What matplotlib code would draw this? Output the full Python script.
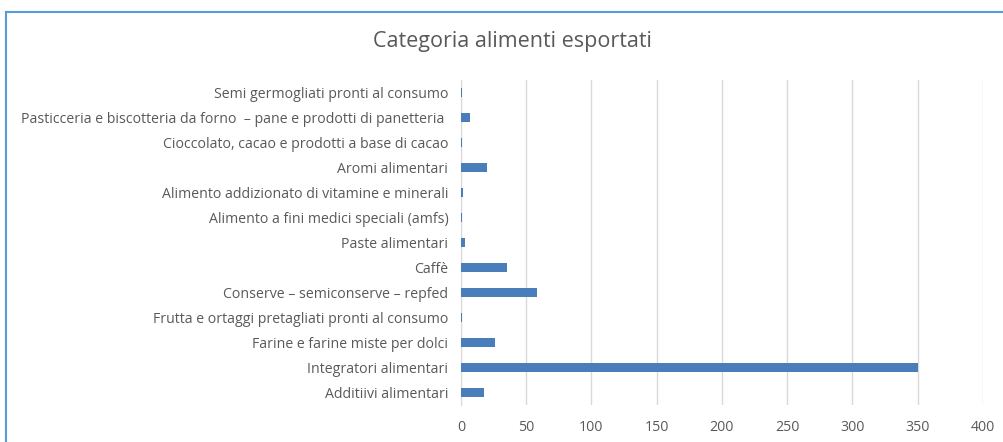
import matplotlib.pyplot as plt
from matplotlib.lines import Line2D

categories = [
    "Additiivi alimentari",
    "Integratori alimentari",
    "Farine e farine miste per dolci",
    "Frutta e ortaggi pretagliati pronti al consumo",
    "Conserve \u2013 semiconserve \u2013 repfed",
    "Caffè",
    "Paste alimentari",
    "Alimento a fini medici speciali (amfs)",
    "Alimento addizionato di vitamine e minerali",
    "Aromi alimentari",
    "Cioccolato, cacao e prodotti a base di cacao",
    "Pasticceria e biscotteria da forno  \u2013 pane e prodotti di panetteria ",
    "Semi germogliati pronti al consumo",
]
values = [18, 350, 26, 1, 58, 35, 3, 1, 2, 20, 1, 7, 1]
x_ticks = [0, 50, 100, 150, 200, 250, 300, 350, 400]

text_color = "#595959"
bar_color = "#4a7ebb"
grid_color = "#d9d9d9"

plt.rcParams["font.family"] = ["Open Sans", "DejaVu Sans"]

fig = plt.figure(figsize=(10.04, 4.42), dpi=100)
ax = fig.add_axes([0.459, 0.084, 0.52, 0.735])

ax.barh(range(len(categories)), values, height=0.36, color=bar_color, zorder=3)

ax.set_xlim(0, 400)
ax.set_ylim(-0.5, len(categories) - 0.5)
ax.set_xticks(x_ticks)
ax.set_yticks(range(len(categories)))
ax.set_yticklabels(categories)

ax.tick_params(axis="both", length=0, colors=text_color, labelsize=10.2)
ax.tick_params(axis="x", pad=11)
ax.tick_params(axis="y", pad=9)

ax.grid(axis="x", color=grid_color, linewidth=1)
ax.set_axisbelow(True)
for side in ["top", "right", "bottom"]:
    ax.spines[side].set_visible(False)
ax.spines["left"].set_color(grid_color)

fig.text(0.51, 0.905, "Categoria alimenti esportati", ha="center", va="center",
         fontsize=15.5, color=text_color)

# chart frame (top and left edges only are visible in the crop)
fig.add_artist(Line2D([6 / 1004, 1.0], [1 - 12 / 442, 1 - 12 / 442],
                      transform=fig.transFigure, color="#5b9bd5", linewidth=1.5))
fig.add_artist(Line2D([6 / 1004, 6 / 1004], [0.0, 1 - 12 / 442],
                      transform=fig.transFigure, color="#5b9bd5", linewidth=1.5))

fig.savefig("out.png", dpi=100)
